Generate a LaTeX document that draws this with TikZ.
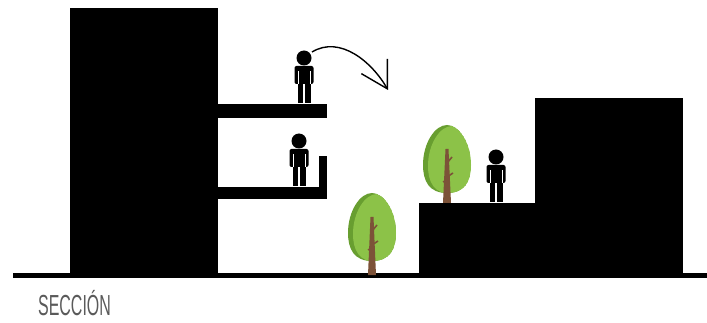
\documentclass[tikz,border=0pt]{standalone}
\usepackage{fontspec}
\newfontfamily\rotulo{Liberation Sans}
\usetikzlibrary{arrows.meta}

\definecolor{hojaclara}{RGB}{140,194,72}
\definecolor{hojaoscura}{RGB}{104,158,48}
\definecolor{tronco}{RGB}{124,82,56}
\definecolor{texto}{RGB}{90,90,90}

% persona: pies centrados en (#1,#2)
\newcommand{\persona}[2]{
  \fill (#1,#2-45) circle (7.5);
  \fill[rounded corners=2] (#1-9.5,#2-19) rectangle (#1+9.5,#2-37);
  \fill (#1-6.5,#2) rectangle (#1-0.8,#2-22);
  \fill (#1+0.8,#2) rectangle (#1+6.5,#2-22);
  \draw[white,line width=0.8] (#1-6,#2-19) -- (#1-6,#2-32);
  \draw[white,line width=0.8] (#1+6,#2-19) -- (#1+6,#2-32);
}

% arbol: base del tronco en (#1,#2)
\newcommand{\copa}[2]{
  (#1,#2) .. controls (#1-18,#2) and (#1-24,#2-12) .. (#1-24,#2-28)
  .. controls (#1-24,#2-50) and (#1-12,#2-68) .. (#1,#2-68)
  .. controls (#1+12,#2-68) and (#1+24,#2-50) .. (#1+24,#2-28)
  .. controls (#1+24,#2-12) and (#1+18,#2) .. (#1,#2) -- cycle
}
\newcommand{\arbol}[3]{
  \begin{scope}
    \clip \copa{#1}{#2-#3};
    \fill[hojaoscura] \copa{#1}{#2-#3};
    \fill[hojaclara] \copa{#1+5}{#2-#3+1};
  \end{scope}
  \fill[tronco] (#1-4,#2) -- (#1-1.5,#2-#3-44) -- (#1+1.5,#2-#3-44) -- (#1+4,#2) -- cycle;
  \draw[tronco,line width=1.6] (#1,#2-#3-30) -- (#1+5,#2-#3-36);
  \draw[tronco,line width=1.6] (#1,#2-#3-16) -- (#1+6,#2-#3-20);
  \draw[tronco,line width=1.4] (#1,#2-#3-8) -- (#1-4,#2-#3-12);
}

\begin{document}
\begin{tikzpicture}[x=1pt,y=-1pt]
  \useasboundingbox (0,0) rectangle (707,323);

  % edificios y terreno
  \fill (70,8) rectangle (218,275);
  \fill (218,104) rectangle (327,118);
  \fill (218,187) rectangle (327,199);
  \fill (319,156) rectangle (327,199);
  \fill (419,203) rectangle (535,275);
  \fill (535,98) rectangle (683,275);
  \fill (13,273) rectangle (707,278);

  % personas
  \persona{304}{103}
  \persona{299}{186}
  \persona{496}{202}

  % arboles
  \arbol{372}{275}{14}
  \arbol{447}{203}{10}

  % salto
  \coordinate (cabeza) at (312,52);
  \coordinate (caida) at (388,90);
  \draw[line width=1.4,-{Straight Barb[length=26pt,width=30pt,line width=1.4pt]}]
    (cabeza) .. controls (340,35) and (372,62) .. (caida);

  \node[anchor=north west,inner sep=0,text=texto] (seccion) at (38,290)
    {\scalebox{0.55}[1]{\rotulo\fontsize{29}{30}\selectfont SECCIÓN}};
\end{tikzpicture}
\end{document}
